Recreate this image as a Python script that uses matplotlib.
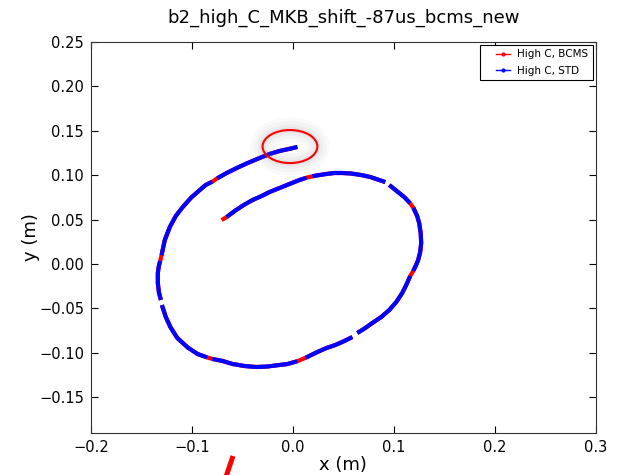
import numpy as np
import matplotlib
matplotlib.use("Agg")
import matplotlib.pyplot as plt
from matplotlib.patches import Ellipse
from matplotlib.lines import Line2D
from matplotlib.legend_handler import HandlerLine2D

title = "b2_high_C_MKB_shift_-87us_bcms_new"
series_labels = ["High C, BCMS", "High C, STD"]
nan = np.nan

# High C, BCMS orbit (x, y in m)
bcms_x = [-0.0706, -0.0656, -0.0577, -0.0488, -0.0399, -0.0310, -0.0231, -0.0132, -0.0034, 0.0065,
          0.0135, 0.0193, 0.0263, 0.0332, 0.0411, 0.0490, 0.0579, 0.0678, 0.0767, 0.0856,
          0.0915, nan, 0.0955, 0.1004, 0.1053, 0.1103, 0.1160, 0.1194, 0.1231, 0.1251,
          0.1266, 0.1271, 0.1261, 0.1241, 0.1221, 0.1192, 0.1162, 0.1123, 0.1083, 0.1024,
          0.0955, 0.0875, 0.0787, 0.0717, 0.0638, nan, 0.0589, 0.0510, 0.0421, 0.0332,
          0.0243, 0.0126, 0.0043, -0.0053, -0.0132, -0.0251, -0.0360, -0.0478, -0.0597, -0.0696,
          -0.0799, -0.0849, -0.0943, -0.1042, -0.1145, -0.1214, -0.1259, -0.1298, nan, -0.1308,
          -0.1328, -0.1338, -0.1338, -0.1328, -0.1315, -0.1301, -0.1269, -0.1219, -0.1160, -0.1091,
          -0.1012, -0.0923, -0.0864, -0.0799, -0.0750, -0.0656, -0.0557, -0.0449, -0.0330, -0.0231,
          -0.0132, -0.0043, 0.0045]
bcms_y = [0.0495, 0.0529, 0.0597, 0.0664, 0.0721, 0.0766, 0.0811, 0.0856, 0.0901, 0.0946,
          0.0972, 0.0988, 0.1002, 0.1014, 0.1025, 0.1025, 0.1019, 0.1002, 0.0980, 0.0946,
          0.0923, nan, 0.0890, 0.0845, 0.0800, 0.0755, 0.0686, 0.0632, 0.0541, 0.0462,
          0.0349, 0.0236, 0.0135, 0.0045, -0.0011, -0.0078, -0.0136, -0.0236, -0.0327, -0.0428,
          -0.0518, -0.0597, -0.0664, -0.0721, -0.0777, nan, -0.0822, -0.0867, -0.0912, -0.0946,
          -0.0991, -0.1056, -0.1095, -0.1126, -0.1137, -0.1154, -0.1160, -0.1149, -0.1126, -0.1092,
          -0.1069, -0.1052, -0.1014, -0.0940, -0.0833, -0.0709, -0.0597, -0.0462, nan, -0.0405,
          -0.0315, -0.0214, -0.0101, -0.0023, 0.0035, 0.0100, 0.0270, 0.0417, 0.0541, 0.0642,
          0.0743, 0.0833, 0.0890, 0.0927, 0.0965, 0.1025, 0.1081, 0.1137, 0.1194, 0.1239,
          0.1273, 0.1295, 0.1318]

# High C, STD orbit (x, y in m)
std_x = [-0.0656, -0.0577, -0.0488, -0.0399, -0.0310, -0.0231, -0.0132, -0.0034, 0.0065, 0.0135,
         nan, 0.0193, 0.0263, 0.0332, 0.0411, 0.0490, 0.0579, 0.0678, 0.0767, 0.0856,
         0.0915, nan, 0.0955, 0.1004, 0.1053, 0.1103, 0.1160, nan, 0.1194, 0.1231,
         0.1251, 0.1266, 0.1271, 0.1261, 0.1241, 0.1221, 0.1192, nan, 0.1162, 0.1123,
         0.1083, 0.1024, 0.0955, 0.0875, 0.0787, 0.0717, 0.0638, nan, 0.0589, 0.0510,
         0.0421, 0.0332, 0.0243, 0.0126, nan, 0.0043, -0.0053, -0.0132, -0.0251, -0.0360,
         -0.0478, -0.0597, -0.0696, -0.0799, nan, -0.0849, -0.0943, -0.1042, -0.1145, -0.1214,
         -0.1259, -0.1298, nan, -0.1308, -0.1328, -0.1338, -0.1338, -0.1328, -0.1315, nan,
         -0.1301, -0.1269, -0.1219, -0.1160, -0.1091, -0.1012, -0.0923, -0.0864, -0.0799, nan,
         -0.0750, -0.0656, -0.0557, -0.0449, -0.0330, -0.0231, -0.0132, -0.0043, 0.0045]
std_y = [0.0529, 0.0597, 0.0664, 0.0721, 0.0766, 0.0811, 0.0856, 0.0901, 0.0946, 0.0972,
         nan, 0.0988, 0.1002, 0.1014, 0.1025, 0.1025, 0.1019, 0.1002, 0.0980, 0.0946,
         0.0923, nan, 0.0890, 0.0845, 0.0800, 0.0755, 0.0686, nan, 0.0632, 0.0541,
         0.0462, 0.0349, 0.0236, 0.0135, 0.0045, -0.0011, -0.0078, nan, -0.0136, -0.0236,
         -0.0327, -0.0428, -0.0518, -0.0597, -0.0664, -0.0721, -0.0777, nan, -0.0822, -0.0867,
         -0.0912, -0.0946, -0.0991, -0.1056, nan, -0.1095, -0.1126, -0.1137, -0.1154, -0.1160,
         -0.1149, -0.1126, -0.1092, -0.1069, nan, -0.1052, -0.1014, -0.0940, -0.0833, -0.0709,
         -0.0597, -0.0462, nan, -0.0405, -0.0315, -0.0214, -0.0101, -0.0023, 0.0035, nan,
         0.0100, 0.0270, 0.0417, 0.0541, 0.0642, 0.0743, 0.0833, 0.0890, 0.0927, nan,
         0.0965, 0.1025, 0.1081, 0.1137, 0.1194, 0.1239, 0.1273, 0.1295, 0.1318]

x_ticks = [-0.2, -0.1, 0.0, 0.1, 0.2, 0.3]
y_ticks = [0.25, 0.20, 0.15, 0.10, 0.05, 0.00, -0.05, -0.10, -0.15]


class ShortHandler(HandlerLine2D):
    """Legend handle whose line occupies only the right part of the handle box."""
    def create_artists(self, legend, orig_handle, xdescent, ydescent, width, height,
                       fontsize, trans):
        arts = super().create_artists(legend, orig_handle, xdescent, ydescent, width,
                                      height, fontsize, trans)
        x0 = -xdescent + 0.45 * width
        x1 = -xdescent + width
        for a in arts:
            yd = np.asarray(a.get_ydata(), dtype=float)
            n = len(yd)
            if n == 1:
                a.set_data([0.5 * (x0 + x1)], yd)
            else:
                a.set_data(np.linspace(x0, x1, n), yd)
        return arts


plt.rcParams['font.family'] = ['DejaVu Sans']
fig = plt.figure(figsize=(6.17, 4.75), dpi=100)
ax = fig.add_axes([0.1475, 0.089, 0.818, 0.8225])

ax.plot(bcms_x, bcms_y, color='#ff0000', lw=3.0, solid_capstyle='butt',
        solid_joinstyle='round', zorder=2)
ax.plot(std_x, std_y, color='#0000ff', lw=3.0, solid_capstyle='butt',
        solid_joinstyle='round', zorder=3)

# annotation circle with soft glow
cx, cy, w, h = -0.0029, 0.1323, 0.0543, 0.0372
for lw, a in [(18, 0.035), (13, 0.045), (8, 0.06), (4, 0.08)]:
    ax.add_patch(Ellipse((cx, cy), w, h, fill=False, edgecolor='#808080',
                         lw=lw, alpha=a, zorder=4))
ax.add_patch(Ellipse((cx, cy), w, h, fill=False, edgecolor='#ff0000', lw=1.5, zorder=5))

ax.set_xlim(-0.2, 0.3)
ax.set_ylim(-0.19, 0.25)
ax.set_xticks(x_ticks)
ax.set_yticks(y_ticks)
ax.set_yticklabels([f"{v:.2f}".replace("-", "\u2212") for v in y_ticks])
ax.tick_params(direction='in', top=True, right=True, length=5, labelsize=10.5, pad=5)
for s in ax.spines.values():
    s.set_color('#333333')

ax.set_title(title, fontsize=13, pad=14)
ax.set_xlabel("x (m)", fontsize=13, labelpad=1)
ax.set_ylabel("y (m)", fontsize=13, labelpad=-1)

handles = [Line2D([], [], color='#ff0000', lw=1, marker='.', ms=4),
           Line2D([], [], color='#0000ff', lw=1, marker='.', ms=4)]
leg = ax.legend(handles, series_labels, loc='upper right', fontsize=7.5,
                fancybox=False, framealpha=1, edgecolor='black', borderaxespad=0.3,
                handlelength=2.5, handletextpad=0.7, labelspacing=0.6, numpoints=1,
                handler_map={Line2D: ShortHandler()})
leg.get_frame().set_linewidth(0.8)

# red slash mark below axes
fig.add_artist(Line2D([233 / 617, 225 / 617], [1 - 456 / 475, -0.01],
                      transform=fig.transFigure, color='#ff0000', lw=3.6,
                      solid_capstyle='butt'))

fig.savefig("out.png", dpi=100, facecolor='white')
